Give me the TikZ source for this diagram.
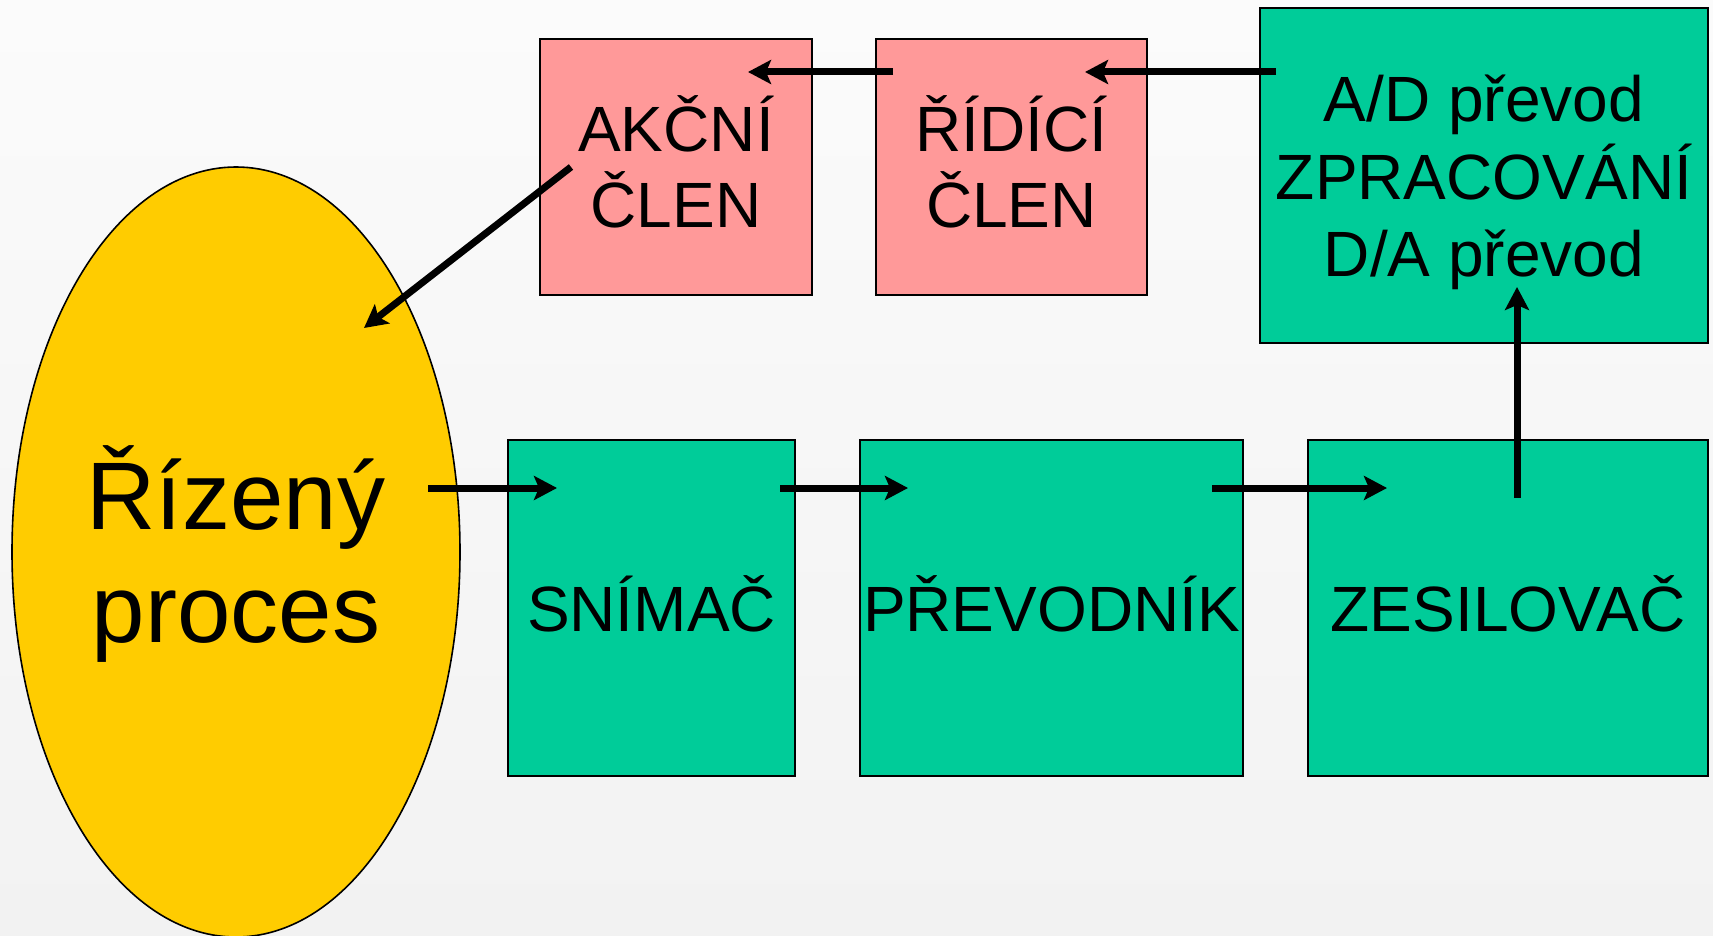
\documentclass[tikz,border=0pt]{standalone}
\usepackage{fontspec}
\setmainfont{Liberation Sans}
\usetikzlibrary{arrows.meta,shapes.geometric}
\definecolor{pinkbox}{HTML}{FF9999}
\definecolor{tealbox}{HTML}{00CC99}
\definecolor{yellowproc}{HTML}{FFCC00}
\definecolor{bgtop}{HTML}{FBFBFB}
\definecolor{bgbot}{HTML}{F2F2F2}
\newcommand\mytop{\rule{0pt}{70pt}}
\newcommand\mybot{\rule[-24pt]{0pt}{24pt}}
\newcommand\mybotad{\rule[-23pt]{0pt}{23pt}}
\newcommand\bigtop{\rule{0pt}{100pt}}
\newcommand\bigbot{\rule[-32pt]{0pt}{32pt}}
\begin{document}
\begin{tikzpicture}[x=1pt,y=-1pt,
  blockbox/.style={draw=black, line width=2pt, inner sep=0pt, align=center,
    font=\fontsize{64pt}{76pt}\selectfont},
  pinkblock/.style={blockbox, fill=pinkbox},
  tealblock/.style={blockbox, fill=tealbox},
  flow/.style={line width=7pt, -{Stealth[length=23pt, width=24pt, inset=5pt]}}]
\useasboundingbox (0,0) rectangle (1713,936);
\shade[top color=bgtop, bottom color=bgbot] (0,0) rectangle (1713,936);

\node[ellipse, draw=black, line width=1.6pt, fill=yellowproc, inner sep=0pt,
  minimum width=448pt, minimum height=770pt, align=center,
  font=\fontsize{96pt}{113pt}\selectfont] (proc) at (236,552) {\bigtop Řízený\\proces\bigbot};

\node[pinkblock, minimum width=272pt, minimum height=256pt] (akc) at (676,167) {\mytop AKČNÍ\\ČLEN\mybot};
\node[pinkblock, minimum width=271pt, minimum height=256pt] (rid) at (1011.5,167) {\mytop ŘÍDÍCÍ\\ČLEN\mybot};
\node[tealblock, minimum width=448pt, minimum height=335pt,
  font=\fontsize{64pt}{77pt}\selectfont] (ad) at (1484,175.5) {\mytop A/D převod\\ZPRACOVÁNÍ\\D/A převod\mybotad};
\node[tealblock, minimum width=287pt, minimum height=336pt] (sni) at (651.5,608) {\mytop SNÍMAČ\mybot};
\node[tealblock, minimum width=383pt, minimum height=336pt] (pre) at (1051.5,608) {\mytop PŘEVODNÍK\mybot};
\node[tealblock, minimum width=400pt, minimum height=336pt] (zes) at (1508,608) {\mytop ZESILOVAČ\mybot};

\coordinate (akcout) at (571,167);
\coordinate (procin) at (364,328);
\coordinate (ridout) at (893,72);
\coordinate (akcin) at (748,72);
\coordinate (adout) at (1276,72);
\coordinate (ridin) at (1085,72);
\coordinate (zesout) at (1517,498);
\coordinate (adin) at (1517,287);
\coordinate (procout) at (428,488);
\coordinate (sniin) at (557,488);
\coordinate (sniout) at (780,488);
\coordinate (prein) at (908,488);
\coordinate (preout) at (1212,488);
\coordinate (zesin) at (1387,488);

\draw[flow] (akcout) -- (procin);
\draw[flow] (ridout) -- (akcin);
\draw[flow] (adout) -- (ridin);
\draw[flow] (zesout) -- (adin);
\draw[flow] (procout) -- (sniin);
\draw[flow] (sniout) -- (prein);
\draw[flow] (preout) -- (zesin);
\end{tikzpicture}
\end{document}
